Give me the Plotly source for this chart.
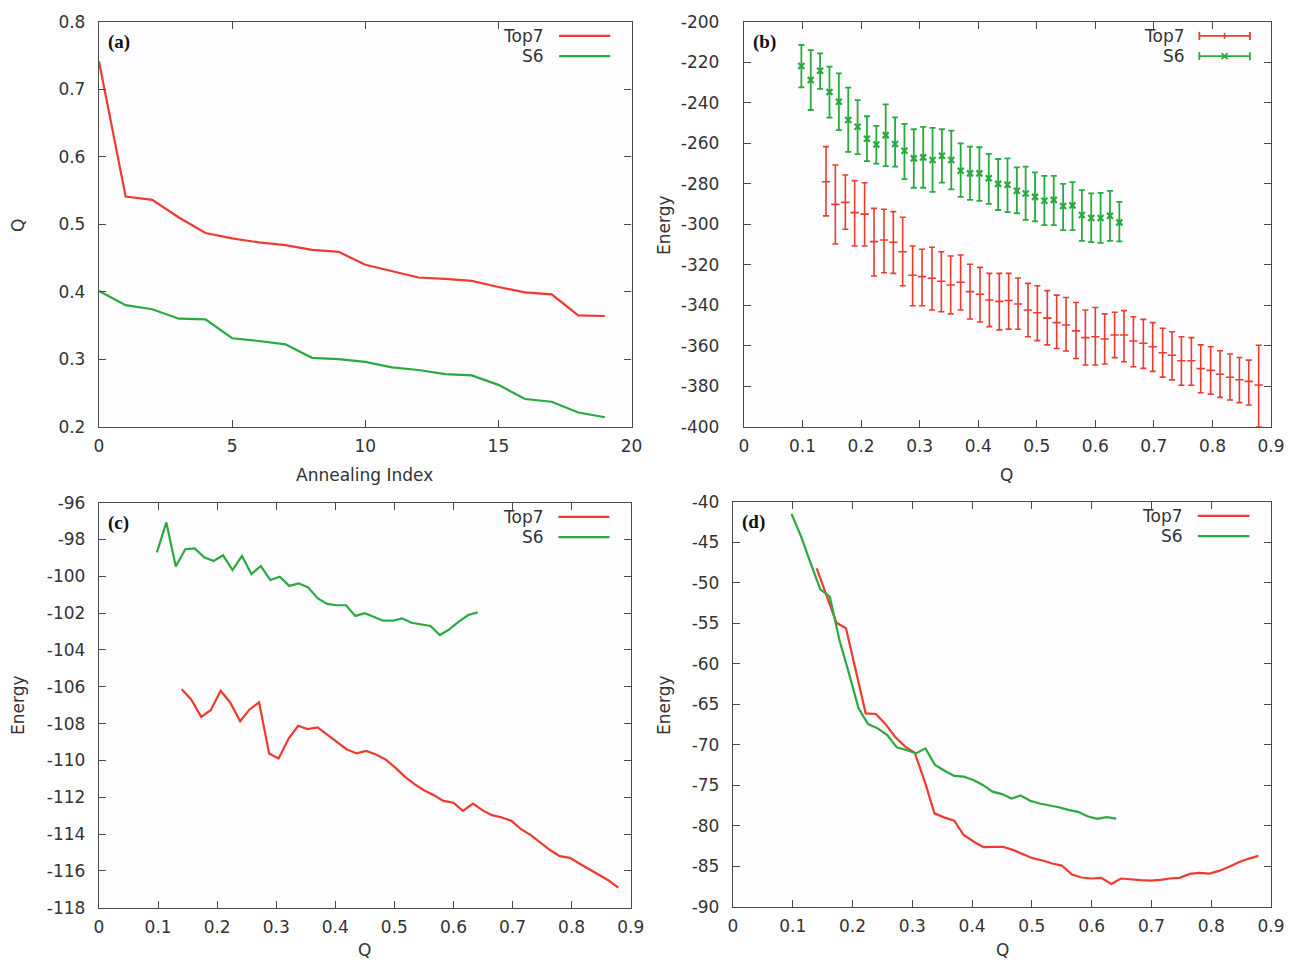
import plotly.graph_objects as go

# ---------------- data ----------------
ann_index = [0, 1, 2, 3, 4, 5, 6, 7, 8, 9, 10, 11, 12, 13, 14, 15, 16, 17, 18, 19]
a_top7 = [0.741, 0.541, 0.536, 0.510, 0.487, 0.479, 0.473, 0.469, 0.462, 0.459,
          0.440, 0.430, 0.421, 0.419, 0.416, 0.407, 0.399, 0.396, 0.365, 0.364]
a_s6 = [0.401, 0.380, 0.374, 0.360, 0.359, 0.331, 0.327, 0.322, 0.302, 0.300,
        0.296, 0.288, 0.284, 0.278, 0.276, 0.262, 0.241, 0.237, 0.221, 0.214]

q_top7 = [0.140, 0.156, 0.173, 0.189, 0.206, 0.222, 0.239, 0.255, 0.271, 0.288,
          0.304, 0.321, 0.337, 0.353, 0.370, 0.386, 0.403, 0.419, 0.436, 0.452,
          0.468, 0.485, 0.501, 0.518, 0.534, 0.550, 0.567, 0.583, 0.600, 0.616,
          0.633, 0.649, 0.665, 0.682, 0.698, 0.715, 0.731, 0.747, 0.764, 0.780,
          0.797, 0.813, 0.830, 0.846, 0.862, 0.879]
q_s6 = [0.098, 0.114, 0.130, 0.146, 0.162, 0.178, 0.194, 0.210, 0.226, 0.242,
        0.258, 0.274, 0.290, 0.306, 0.322, 0.338, 0.354, 0.370, 0.386, 0.402,
        0.418, 0.434, 0.450, 0.466, 0.481, 0.497, 0.513, 0.529, 0.545, 0.561,
        0.577, 0.593, 0.609, 0.625, 0.641]

b_top7_mean = [-279.0, -290.2, -289.2, -294.3, -295.0, -308.6, -307.8, -308.9, -313.6, -325.2,
               -325.9, -326.7, -328.2, -330.0, -328.7, -333.3, -334.6, -337.4, -338.1, -337.7,
               -339.4, -342.4, -343.7, -346.4, -348.6, -349.8, -352.7, -356.0, -355.6, -356.7,
               -354.7, -354.7, -357.7, -358.8, -360.5, -363.5, -364.7, -367.4, -367.4, -371.3,
               -372.2, -374.1, -375.6, -376.8, -377.6, -379.4]
b_top7_hi = [-261.7, -270.8, -275.7, -278.5, -279.5, -292.2, -292.6, -293.8, -296.6, -310.8,
             -312.4, -311.4, -313.6, -315.7, -315.2, -319.8, -321.3, -324.3, -324.3, -324.3,
             -326.6, -329.2, -330.4, -332.8, -335.0, -336.2, -338.7, -342.4, -341.1, -344.3,
             -343.5, -342.7, -345.7, -347.0, -348.6, -351.4, -353.1, -355.6, -356.0, -359.6,
             -360.5, -362.5, -364.1, -365.8, -367.1, -359.8]
b_top7_lo = [-295.9, -309.8, -302.5, -310.8, -310.8, -325.6, -324.0, -324.3, -330.4, -340.3,
             -340.3, -342.4, -343.2, -344.3, -342.4, -346.8, -348.3, -350.6, -352.2, -351.8,
             -351.9, -355.6, -357.5, -359.6, -361.4, -362.6, -366.3, -369.5, -369.5, -369.0,
             -365.9, -367.9, -370.4, -371.2, -372.7, -375.5, -376.9, -379.5, -379.5, -383.2,
             -383.9, -385.5, -386.8, -388.1, -389.3, -400.0]

b_s6_mean = [-221.9, -228.8, -224.2, -234.7, -239.5, -248.5, -251.9, -257.8, -260.6, -256.0,
             -260.4, -263.7, -267.5, -267.0, -268.3, -266.2, -268.3, -273.6, -274.9, -274.9,
             -277.3, -280.1, -280.5, -283.5, -284.8, -286.5, -288.4, -288.0, -291.0, -290.7,
             -295.5, -296.9, -296.9, -295.8, -299.1]
b_s6_hi = [-211.5, -214.0, -215.6, -222.2, -225.5, -232.6, -238.7, -246.7, -251.4, -240.8,
           -247.2, -250.5, -253.1, -251.9, -252.4, -253.1, -253.8, -260.1, -261.7, -262.0,
           -265.3, -267.8, -267.5, -271.9, -271.6, -274.4, -276.1, -276.1, -280.1, -279.2,
           -283.2, -284.8, -284.5, -283.5, -289.0]
b_s6_lo = [-232.4, -243.6, -233.2, -247.4, -253.5, -264.3, -265.4, -268.9, -270.1, -271.3,
           -271.6, -277.7, -282.0, -282.0, -284.0, -279.5, -282.8, -286.5, -288.0, -288.5,
           -290.0, -293.0, -294.0, -294.6, -297.9, -298.6, -300.5, -300.5, -302.9, -302.9,
           -308.2, -308.9, -309.2, -308.2, -308.5]

c_top7 = [-106.13, -106.69, -107.63, -107.27, -106.22, -106.85, -107.87, -107.23, -106.85, -109.62,
          -109.89, -108.81, -108.12, -108.30, -108.21, -108.59, -108.99, -109.39, -109.62, -109.48,
          -109.66, -109.95, -110.38, -110.89, -111.29, -111.62, -111.89, -112.20, -112.30, -112.74,
          -112.34, -112.70, -112.97, -113.10, -113.28, -113.75, -114.06, -114.48, -114.88, -115.20,
          -115.29, -115.60, -115.91, -116.24, -116.51, -116.91]
c_s6 = [-98.70, -97.07, -99.47, -98.53, -98.48, -98.97, -99.17, -98.86, -99.66, -98.89,
        -99.87, -99.44, -100.20, -100.02, -100.52, -100.38, -100.60, -101.19, -101.50, -101.57,
        -101.57, -102.15, -102.00, -102.23, -102.41, -102.41, -102.28, -102.52, -102.59, -102.70,
        -103.19, -102.88, -102.46, -102.10, -101.96]

d_top7 = [-48.23, -51.52, -54.93, -55.63, -61.00, -66.13, -66.21, -67.44, -69.01, -70.24,
          -70.98, -74.60, -78.48, -78.97, -79.38, -81.15, -81.98, -82.65, -82.61, -82.61,
          -82.98, -83.48, -84.01, -84.30, -84.67, -84.92, -86.03, -86.40, -86.52, -86.44,
          -87.18, -86.52, -86.65, -86.73, -86.77, -86.69, -86.52, -86.44, -85.95, -85.82,
          -85.91, -85.58, -85.08, -84.51, -84.09, -83.72]
d_s6 = [-41.52, -44.32, -47.61, -50.82, -51.73, -57.07, -61.19, -65.51, -67.45, -67.98,
        -68.81, -70.33, -70.65, -71.07, -70.45, -72.51, -73.21, -73.86, -73.95, -74.36,
        -74.97, -75.80, -76.10, -76.65, -76.28, -76.93, -77.26, -77.47, -77.72, -78.05,
        -78.29, -78.83, -79.16, -78.95, -79.12]

series_names = ["Top7", "S6"]
panel_labels = ["(a)", "(b)", "(c)", "(d)"]

a_xticks = [0, 5, 10, 15, 20]
a_yticks = [0.2, 0.3, 0.4, 0.5, 0.6, 0.7, 0.8]
q_ticks = [0, 0.1, 0.2, 0.3, 0.4, 0.5, 0.6, 0.7, 0.8, 0.9]
b_yticks = [-400, -380, -360, -340, -320, -300, -280, -260, -240, -220, -200]
c_yticks = [-118, -116, -114, -112, -110, -108, -106, -104, -102, -100, -98, -96]
d_yticks = [-90, -85, -80, -75, -70, -65, -60, -55, -50, -45, -40]

# ---------------- style ----------------
RED = "#ee3b2b"
GREEN = "#2aaa3e"
SCREEN_W, SCREEN_H = 1293, 963
OFF = 8                       # default page (body) margin of the browser
W, H = SCREEN_W - OFF, SCREEN_H - OFF
FONT = "DejaVu Sans"
FS = 17
TXT = "#333333"
AX = "#4a4a4a"

def lbl(v):
    return "%g" % v

fig = go.Figure()

# (a)
fig.add_trace(go.Scatter(x=ann_index, y=a_top7, mode="lines", name="Top7",
                         line=dict(color=RED, width=2.2), xaxis="x", yaxis="y", showlegend=False))
fig.add_trace(go.Scatter(x=ann_index, y=a_s6, mode="lines", name="S6",
                         line=dict(color=GREEN, width=2.2), xaxis="x", yaxis="y", showlegend=False))

# (b) error bars
def err(mean, hi, lo):
    plus = [round(h - m, 2) for m, h in zip(mean, hi)]
    minus = [round(m - l, 2) for m, l in zip(mean, lo)]
    return plus, minus

tp, tm = err(b_top7_mean, b_top7_hi, b_top7_lo)
sp, sm = err(b_s6_mean, b_s6_hi, b_s6_lo)
fig.add_trace(go.Scatter(x=q_top7, y=b_top7_mean, mode="markers", name="Top7",
                         marker=dict(symbol="line-ew", size=6, color=RED,
                                     line=dict(color=RED, width=1.6)),
                         error_y=dict(type="data", symmetric=False, array=tp, arrayminus=tm,
                                      color=RED, thickness=1.6, width=3),
                         xaxis="x2", yaxis="y2", showlegend=False))
fig.add_trace(go.Scatter(x=q_s6, y=b_s6_mean, mode="markers", name="S6",
                         marker=dict(symbol="x-thin", size=6, color=GREEN,
                                     line=dict(color=GREEN, width=2.2)),
                         error_y=dict(type="data", symmetric=False, array=sp, arrayminus=sm,
                                      color=GREEN, thickness=1.8, width=3),
                         xaxis="x2", yaxis="y2", showlegend=False))

# (c)
fig.add_trace(go.Scatter(x=q_top7, y=c_top7, mode="lines", name="Top7",
                         line=dict(color=RED, width=2.2), xaxis="x3", yaxis="y3", showlegend=False))
fig.add_trace(go.Scatter(x=q_s6, y=c_s6, mode="lines", name="S6",
                         line=dict(color=GREEN, width=2.2), xaxis="x3", yaxis="y3", showlegend=False))
# (d)
fig.add_trace(go.Scatter(x=q_top7, y=d_top7, mode="lines", name="Top7",
                         line=dict(color=RED, width=2.2), xaxis="x4", yaxis="y4", showlegend=False))
fig.add_trace(go.Scatter(x=q_s6, y=d_s6, mode="lines", name="S6",
                         line=dict(color=GREEN, width=2.2), xaxis="x4", yaxis="y4", showlegend=False))

# domains (screen pixels -> paper fractions of the figure)
def px(x):
    return (x - OFF) / W

def py(y):
    return 1 - (y - OFF) / H

def xd(l, r):
    return [px(l), px(r)]

def yd(t, b):
    return [py(b), py(t)]

doms = {
    1: (xd(99, 631.5), yd(21.7, 426.7)),
    2: (xd(744, 1271), yd(21.7, 426.7)),
    3: (xd(99, 630.7), yd(502.7, 907.7)),
    4: (xd(733, 1271), yd(501.7, 906.7)),
}
ranges = {
    1: ([0, 20], [0.2, 0.8], a_xticks, a_yticks),
    2: ([0, 0.9], [-400, -200], q_ticks, b_yticks),
    3: ([0, 0.9], [-118, -96], q_ticks, c_yticks),
    4: ([0, 0.9], [-90, -40], q_ticks, d_yticks),
}
ylab_gap = {1: 9, 2: 20, 3: 9, 4: 9}

layout = dict(width=W, height=H, margin=dict(l=0, r=0, t=0, b=0, pad=0), autosize=False,
              paper_bgcolor="white", plot_bgcolor="#fdfdff",
              font=dict(family=FONT, size=FS, color=TXT), showlegend=False)

for i in range(1, 5):
    sx = "" if i == 1 else str(i)
    xdom, ydom = doms[i]
    xr, yr, xt, yt = ranges[i]
    common = dict(showgrid=False, zeroline=False, showline=True, linecolor=AX, linewidth=1.3,
                  mirror="ticks", ticks="inside", ticklen=7, tickwidth=1.2, tickcolor=AX,
                  automargin=False, tickfont=dict(family=FONT, size=FS, color=TXT))
    layout["xaxis" + sx] = dict(domain=xdom, range=xr, anchor="y" + sx, ticklabelstandoff=4,
                                tickvals=xt, ticktext=[lbl(v) for v in xt], **common)
    layout["yaxis" + sx] = dict(domain=ydom, range=yr, anchor="x" + sx, ticklabelstandoff=ylab_gap[i],
                                tickvals=yt, ticktext=[lbl(v) for v in yt], **common)

fig.update_layout(**layout)

annotations = []
shapes = []
for i in range(1, 5):
    sx = "" if i == 1 else str(i)
    xref = "x" + sx + " domain"
    yref = "y" + sx + " domain"
    annotations.append(dict(text="<b>" + panel_labels[i - 1] + "</b>", x=0.013, y=0.951,
                            xref=xref, yref=yref, xanchor="left", yanchor="middle", showarrow=False,
                            font=dict(family="Liberation Serif", size=19, color="#111111")))
    for name, col, yy in ((series_names[0], RED, 0.965), (series_names[1], GREEN, 0.915)):
        annotations.append(dict(text=name, x=0.840, y=yy, xref=xref, yref=yref,
                                xanchor="right", yanchor="middle", showarrow=False,
                                font=dict(family=FONT, size=FS, color=TXT)))
        shapes.append(dict(type="line", xref=xref, yref=yref, x0=0.864, x1=0.960, y0=yy, y1=yy,
                           line=dict(color=col, width=2.2 if i != 2 else 1.8)))
        if i == 2:
            for xe in (0.864, 0.960):
                shapes.append(dict(type="line", xref=xref, yref=yref, x0=xe, x1=xe,
                                   ysizemode="pixel", yanchor=yy, y0=-4, y1=4,
                                   line=dict(color=col, width=1.8)))
            if name == "Top7":
                shapes.append(dict(type="line", xref=xref, yref=yref, x0=0.912, x1=0.912,
                                   ysizemode="pixel", yanchor=yy, y0=-3, y1=3,
                                   line=dict(color=col, width=1.6)))
            else:
                shapes.append(dict(type="line", xref=xref, yref=yref, xsizemode="pixel", xanchor=0.912,
                                   x0=-3, x1=3, ysizemode="pixel", yanchor=yy, y0=-3, y1=3,
                                   line=dict(color=col, width=1.8)))
                shapes.append(dict(type="line", xref=xref, yref=yref, xsizemode="pixel", xanchor=0.912,
                                   x0=-3, x1=3, ysizemode="pixel", yanchor=yy, y0=3, y1=-3,
                                   line=dict(color=col, width=1.8)))

# axis titles (screen pixel centres)
titles = [
    ("Q", 18, 226, -90), ("Annealing Index", 364, 475, 0),
    ("Energy", 664, 225, -90), ("Q", 1006, 475, 0),
    ("Energy", 18, 705, -90), ("Q", 364, 950, 0),
    ("Energy", 664, 705, -90), ("Q", 1002, 950, 0),
]
for t, x0, y0, ang in titles:
    annotations.append(dict(text=t, x=px(x0), y=py(y0), xref="paper", yref="paper",
                            xanchor="center", yanchor="middle", showarrow=False, textangle=ang,
                            font=dict(family=FONT, size=FS, color=TXT)))

fig.update_layout(annotations=annotations, shapes=shapes)
fig.write_html("out.html")
